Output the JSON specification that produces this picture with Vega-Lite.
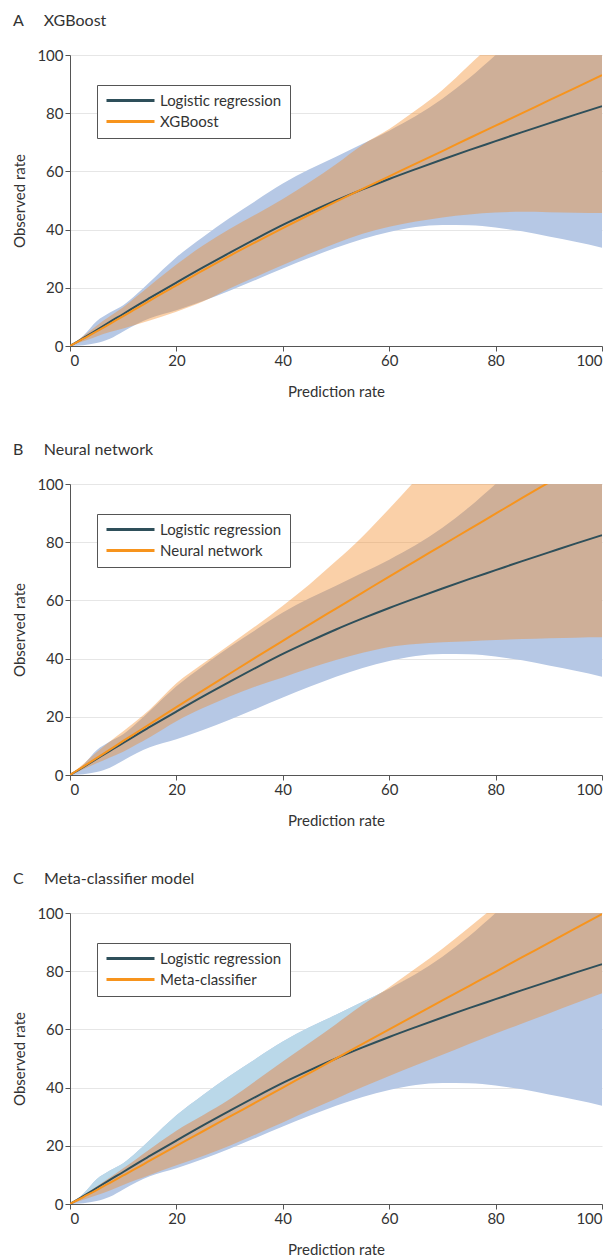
{
  "$schema": "https://vega.github.io/schema/vega-lite/v6.json",
  "description": "Calibration curves: logistic regression vs XGBoost, neural network and meta-classifier.",
  "background": "white",
  "padding": {"left": 12, "top": 13, "right": 0, "bottom": 0},
  "spacing": 43,
  "data": {
    "values": [
      {"x": 0, "lr": 0, "lr_lo": 0, "lr_hi": 0, "c_lo": 0, "xgb": 0, "xgb_lo": 0, "xgb_hi": 0, "nn": 0, "nn_lo": 0, "nn_hi": 0, "meta": 0, "meta_lo": 0, "meta_hi": 0},
      {"x": 2.5, "lr": 2.7, "lr_lo": 0.3, "lr_hi": 3.5, "c_lo": 3, "xgb": 2.5, "xgb_lo": 1.6, "xgb_hi": 3.4, "nn": 2.9, "nn_lo": 2, "nn_hi": 3.8, "meta": 2.4, "meta_lo": 1.5, "meta_hi": 3},
      {"x": 5, "lr": 5.5, "lr_lo": 1, "lr_hi": 8.5, "c_lo": 6, "xgb": 5, "xgb_lo": 3.3, "xgb_hi": 7, "nn": 5.8, "nn_lo": 4, "nn_hi": 7.8, "meta": 4.8, "meta_lo": 3, "meta_hi": 6},
      {"x": 7.5, "lr": 8.3, "lr_lo": 2.5, "lr_hi": 11.5, "c_lo": 9.1, "xgb": 7.6, "xgb_lo": 4.8, "xgb_hi": 10.2, "nn": 8.7, "nn_lo": 6, "nn_hi": 11.5, "meta": 7.3, "meta_lo": 4.6, "meta_hi": 9.1},
      {"x": 10, "lr": 11, "lr_lo": 5, "lr_hi": 14, "c_lo": 12.3, "xgb": 10.3, "xgb_lo": 6, "xgb_hi": 13.3, "nn": 11.7, "nn_lo": 8, "nn_hi": 15, "meta": 9.8, "meta_lo": 6.5, "meta_hi": 12.3},
      {"x": 12.5, "lr": 13.8, "lr_lo": 7.5, "lr_hi": 17.8, "c_lo": 15.5, "xgb": 12.9, "xgb_lo": 7.4, "xgb_hi": 17, "nn": 14.6, "nn_lo": 10.5, "nn_hi": 18.6, "meta": 12.3, "meta_lo": 8.3, "meta_hi": 15.5},
      {"x": 15, "lr": 16.5, "lr_lo": 9.5, "lr_hi": 22, "c_lo": 18.8, "xgb": 15.6, "xgb_lo": 8.8, "xgb_hi": 20.7, "nn": 17.5, "nn_lo": 13, "nn_hi": 22.5, "meta": 14.9, "meta_lo": 10, "meta_hi": 18.8},
      {"x": 20, "lr": 21.8, "lr_lo": 12.3, "lr_hi": 30.5, "c_lo": 25.2, "xgb": 20.8, "xgb_lo": 11.8, "xgb_hi": 28, "nn": 23.3, "nn_lo": 18.5, "nn_hi": 31.5, "meta": 20, "meta_lo": 13.3, "meta_hi": 25.2},
      {"x": 25, "lr": 27, "lr_lo": 15.5, "lr_hi": 37.5, "c_lo": 30.5, "xgb": 26, "xgb_lo": 15.3, "xgb_hi": 34.5, "nn": 29.1, "nn_lo": 23, "nn_hi": 38.3, "meta": 25, "meta_lo": 16.5, "meta_hi": 30.5},
      {"x": 30, "lr": 32, "lr_lo": 19, "lr_hi": 44, "c_lo": 36, "xgb": 31, "xgb_lo": 19.8, "xgb_hi": 40.2, "nn": 34.8, "nn_lo": 27, "nn_hi": 44.8, "meta": 30, "meta_lo": 20, "meta_hi": 36},
      {"x": 35, "lr": 36.9, "lr_lo": 22.8, "lr_hi": 50, "c_lo": 42.4, "xgb": 35.8, "xgb_lo": 23.8, "xgb_hi": 45.3, "nn": 40.5, "nn_lo": 30.5, "nn_hi": 51.3, "meta": 35, "meta_lo": 24, "meta_hi": 42.4},
      {"x": 40, "lr": 41.6, "lr_lo": 26.6, "lr_hi": 55.8, "c_lo": 49, "xgb": 40.5, "xgb_lo": 27.8, "xgb_hi": 50.5, "nn": 46.1, "nn_lo": 33.5, "nn_hi": 58.2, "meta": 40, "meta_lo": 28, "meta_hi": 49},
      {"x": 45, "lr": 45.9, "lr_lo": 30.3, "lr_hi": 60.7, "c_lo": 55.3, "xgb": 45.1, "xgb_lo": 31.7, "xgb_hi": 56.3, "nn": 51.7, "nn_lo": 36.7, "nn_hi": 65.5, "meta": 45, "meta_lo": 32.2, "meta_hi": 55.3},
      {"x": 50, "lr": 50, "lr_lo": 33.8, "lr_hi": 65, "c_lo": 61.8, "xgb": 49.6, "xgb_lo": 35.3, "xgb_hi": 62.5, "nn": 57.2, "nn_lo": 39.5, "nn_hi": 73.5, "meta": 50, "meta_lo": 36.2, "meta_hi": 61.8},
      {"x": 55, "lr": 53.8, "lr_lo": 36.8, "lr_hi": 69.5, "c_lo": 68.5, "xgb": 54, "xgb_lo": 38.6, "xgb_hi": 69.2, "nn": 62.7, "nn_lo": 42, "nn_hi": 82, "meta": 55, "meta_lo": 40.2, "meta_hi": 68.5},
      {"x": 60, "lr": 57.4, "lr_lo": 39.2, "lr_hi": 74, "c_lo": 74, "xgb": 58.3, "xgb_lo": 41, "xgb_hi": 74.6, "nn": 68.2, "nn_lo": 44, "nn_hi": 91.5, "meta": 60, "meta_lo": 44, "meta_hi": 74.5},
      {"x": 65, "lr": 60.8, "lr_lo": 40.9, "lr_hi": 79, "c_lo": 79, "xgb": 62.7, "xgb_lo": 42.8, "xgb_hi": 81, "nn": 73.6, "nn_lo": 45, "nn_hi": 101.5, "meta": 65, "meta_lo": 47.7, "meta_hi": 81},
      {"x": 70, "lr": 64.1, "lr_lo": 41.6, "lr_hi": 85, "c_lo": 85, "xgb": 67, "xgb_lo": 44.2, "xgb_hi": 88, "nn": 79, "nn_lo": 45.6, "nn_hi": 112.5, "meta": 70, "meta_lo": 51.3, "meta_hi": 87.7},
      {"x": 75, "lr": 67.3, "lr_lo": 41.5, "lr_hi": 92, "c_lo": 92, "xgb": 71.4, "xgb_lo": 45.2, "xgb_hi": 96.5, "nn": 84.4, "nn_lo": 46, "nn_hi": 124, "meta": 74.9, "meta_lo": 55, "meta_hi": 95},
      {"x": 80, "lr": 70.4, "lr_lo": 40.7, "lr_hi": 100, "c_lo": 100, "xgb": 75.7, "xgb_lo": 45.9, "xgb_hi": 105, "nn": 89.8, "nn_lo": 46.4, "nn_hi": 136, "meta": 79.8, "meta_lo": 58.6, "meta_hi": 102.5},
      {"x": 85, "lr": 73.5, "lr_lo": 39.4, "lr_hi": 108, "c_lo": 108, "xgb": 80, "xgb_lo": 46.1, "xgb_hi": 114, "nn": 95.2, "nn_lo": 46.7, "nn_hi": 148, "meta": 84.8, "meta_lo": 62, "meta_hi": 110},
      {"x": 90, "lr": 76.5, "lr_lo": 37.6, "lr_hi": 116, "c_lo": 116, "xgb": 84.4, "xgb_lo": 46, "xgb_hi": 123, "nn": 100.5, "nn_lo": 47, "nn_hi": 160, "meta": 89.7, "meta_lo": 65.5, "meta_hi": 118},
      {"x": 95, "lr": 79.5, "lr_lo": 35.8, "lr_hi": 124, "c_lo": 124, "xgb": 88.7, "xgb_lo": 45.8, "xgb_hi": 132, "nn": 105.8, "nn_lo": 47.2, "nn_hi": 172, "meta": 94.7, "meta_lo": 69, "meta_hi": 126},
      {"x": 100, "lr": 82.4, "lr_lo": 33.8, "lr_hi": 132, "c_lo": 132, "xgb": 93.1, "xgb_lo": 45.7, "xgb_hi": 141, "nn": 111, "nn_lo": 47.3, "nn_hi": 184, "meta": 99.6, "meta_lo": 72.4, "meta_hi": 134}
    ]
  },
  "vconcat": [
    {
      "width": 532,
      "height": 291,
      "title": {"text": "\u00a0A\u00a0\u00a0\u00a0\u00a0\u00a0XGBoost"},
      "layer": [
        {
          "mark": {"type": "area", "clip": true, "interpolate": "monotone", "color": "#b6c8e5"},
          "encoding": {
            "x": {"field": "x", "type": "quantitative", "scale": {"domain": [0, 100], "nice": false}, "axis": {"title": "Prediction rate", "values": [0, 20, 40, 60, 80, 100]}},
            "y": {"field": "lr_lo", "type": "quantitative", "scale": {"domain": [0, 100], "nice": false}, "axis": {"title": "Observed rate", "values": [0, 20, 40, 60, 80, 100]}},
            "y2": {"field": "lr_hi"}
          }
        },
        {
          "mark": {"type": "area", "clip": true, "interpolate": "monotone", "color": "#f28925", "opacity": 0.4},
          "encoding": {
            "x": {"field": "x", "type": "quantitative", "axis": {"title": "Prediction rate"}},
            "y": {"field": "xgb_lo", "type": "quantitative", "axis": {"title": "Observed rate"}},
            "y2": {"field": "xgb_hi"}
          }
        },
        {
          "mark": {"type": "line", "clip": true, "interpolate": "monotone", "strokeWidth": 2},
          "encoding": {
            "x": {"field": "x", "type": "quantitative", "axis": {"title": "Prediction rate"}},
            "y": {"field": "lr", "type": "quantitative", "axis": {"title": "Observed rate"}},
            "color": {
              "datum": "Logistic regression", "type": "nominal",
              "scale": {"domain": ["Logistic regression", "XGBoost"], "range": ["#2e4f5a", "#f7941d"]},
              "legend": {"title": null, "orient": "none", "legendX": 27, "legendY": 30}
            }
          }
        },
        {
          "mark": {"type": "line", "clip": true, "interpolate": "monotone", "strokeWidth": 2},
          "encoding": {
            "x": {"field": "x", "type": "quantitative", "axis": {"title": "Prediction rate"}},
            "y": {"field": "xgb", "type": "quantitative", "axis": {"title": "Observed rate"}},
            "color": {"datum": "XGBoost", "type": "nominal"}
          }
        }
      ]
    },
    {
      "width": 532,
      "height": 291,
      "title": {"text": "\u00a0B\u00a0\u00a0\u00a0\u00a0\u00a0Neural network"},
      "layer": [
        {
          "mark": {"type": "area", "clip": true, "interpolate": "monotone", "color": "#b6c8e5"},
          "encoding": {
            "x": {"field": "x", "type": "quantitative", "scale": {"domain": [0, 100], "nice": false}, "axis": {"title": "Prediction rate", "values": [0, 20, 40, 60, 80, 100]}},
            "y": {"field": "lr_lo", "type": "quantitative", "scale": {"domain": [0, 100], "nice": false}, "axis": {"title": "Observed rate", "values": [0, 20, 40, 60, 80, 100]}},
            "y2": {"field": "lr_hi"}
          }
        },
        {
          "mark": {"type": "area", "clip": true, "interpolate": "monotone", "color": "#f28925", "opacity": 0.4},
          "encoding": {
            "x": {"field": "x", "type": "quantitative", "axis": {"title": "Prediction rate"}},
            "y": {"field": "nn_lo", "type": "quantitative", "axis": {"title": "Observed rate"}},
            "y2": {"field": "nn_hi"}
          }
        },
        {
          "mark": {"type": "line", "clip": true, "interpolate": "monotone", "strokeWidth": 2},
          "encoding": {
            "x": {"field": "x", "type": "quantitative", "axis": {"title": "Prediction rate"}},
            "y": {"field": "lr", "type": "quantitative", "axis": {"title": "Observed rate"}},
            "color": {
              "datum": "Logistic regression", "type": "nominal",
              "scale": {"domain": ["Logistic regression", "Neural network"], "range": ["#2e4f5a", "#f7941d"]},
              "legend": {"title": null, "orient": "none", "legendX": 27, "legendY": 30}
            }
          }
        },
        {
          "mark": {"type": "line", "clip": true, "interpolate": "monotone", "strokeWidth": 2},
          "encoding": {
            "x": {"field": "x", "type": "quantitative", "axis": {"title": "Prediction rate"}},
            "y": {"field": "nn", "type": "quantitative", "axis": {"title": "Observed rate"}},
            "color": {"datum": "Neural network", "type": "nominal"}
          }
        }
      ]
    },
    {
      "width": 532,
      "height": 291,
      "title": {"text": "\u00a0C\u00a0\u00a0\u00a0\u00a0\u00a0Meta-classifier model"},
      "layer": [
        {
          "mark": {"type": "area", "clip": true, "interpolate": "monotone", "color": "#b6c8e5"},
          "encoding": {
            "x": {"field": "x", "type": "quantitative", "scale": {"domain": [0, 100], "nice": false}, "axis": {"title": "Prediction rate", "values": [0, 20, 40, 60, 80, 100]}},
            "y": {"field": "lr_lo", "type": "quantitative", "scale": {"domain": [0, 100], "nice": false}, "axis": {"title": "Observed rate", "values": [0, 20, 40, 60, 80, 100]}},
            "y2": {"field": "lr_hi"}
          }
        },
        {
          "mark": {"type": "area", "clip": true, "interpolate": "monotone", "color": "#bad8e9"},
          "encoding": {
            "x": {"field": "x", "type": "quantitative", "axis": {"title": "Prediction rate"}},
            "y": {"field": "c_lo", "type": "quantitative", "axis": {"title": "Observed rate"}},
            "y2": {"field": "lr_hi"}
          }
        },
        {
          "mark": {"type": "area", "clip": true, "interpolate": "monotone", "color": "#f28925", "opacity": 0.4},
          "encoding": {
            "x": {"field": "x", "type": "quantitative", "axis": {"title": "Prediction rate"}},
            "y": {"field": "meta_lo", "type": "quantitative", "axis": {"title": "Observed rate"}},
            "y2": {"field": "meta_hi"}
          }
        },
        {
          "mark": {"type": "line", "clip": true, "interpolate": "monotone", "strokeWidth": 2},
          "encoding": {
            "x": {"field": "x", "type": "quantitative", "axis": {"title": "Prediction rate"}},
            "y": {"field": "lr", "type": "quantitative", "axis": {"title": "Observed rate"}},
            "color": {
              "datum": "Logistic regression", "type": "nominal",
              "scale": {"domain": ["Logistic regression", "Meta-classifier"], "range": ["#2e4f5a", "#f7941d"]},
              "legend": {"title": null, "orient": "none", "legendX": 27, "legendY": 30}
            }
          }
        },
        {
          "mark": {"type": "line", "clip": true, "interpolate": "monotone", "strokeWidth": 2},
          "encoding": {
            "x": {"field": "x", "type": "quantitative", "axis": {"title": "Prediction rate"}},
            "y": {"field": "meta", "type": "quantitative", "axis": {"title": "Observed rate"}},
            "color": {"datum": "Meta-classifier", "type": "nominal"}
          }
        }
      ]
    }
  ],
  "resolve": {"scale": {"color": "independent"}},
  "config": {
    "font": "Lato",
    "view": {"stroke": null},
    "title": {"anchor": "start", "frame": "bounds", "fontSize": 16, "fontWeight": "normal", "color": "#333", "offset": 19},
    "axis": {
      "labelFont": "Lato", "labelFontSize": 15, "labelColor": "#333",
      "titleFont": "Lato", "titleFontSize": 15, "titleFontWeight": "normal", "titleColor": "#333",
      "domainColor": "#555", "tickColor": "#555", "tickSize": 5,
      "gridColor": "#e6e6e6", "gridWidth": 1.2
    },
    "axisX": {"grid": false, "titlePadding": 16},
    "axisY": {"grid": true, "titlePadding": 9},
    "legend": {
      "strokeColor": "#555", "fillColor": "white", "padding": 8,
      "symbolType": "M-1,0H7", "symbolStrokeWidth": 3, "symbolSize": 144,
      "labelFont": "Lato", "labelFontSize": 15, "labelColor": "#333",
      "rowPadding": 5, "labelOffset": 40
    }
  }
}
